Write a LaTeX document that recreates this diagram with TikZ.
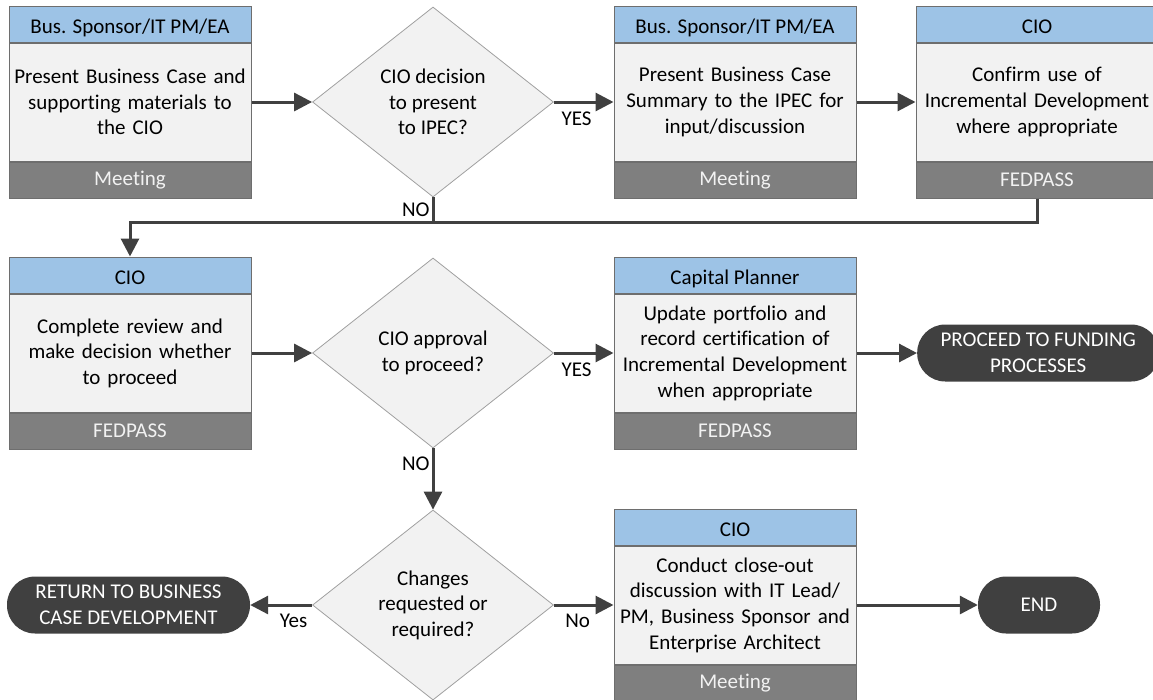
\documentclass[tikz,border=0pt]{standalone}
\usepackage{fontspec}
\setmainfont{Carlito}[Ligatures=NoCommon]
\usetikzlibrary{shapes.geometric,arrows.meta}
\definecolor{headc}{HTML}{9DC3E6}
\definecolor{bodyc}{HTML}{F2F2F2}
\definecolor{footc}{HTML}{7F7F7F}
\definecolor{edgec}{HTML}{6E6E6E}
\definecolor{darkc}{HTML}{404040}
\definecolor{diac}{HTML}{A0A0A0}
\begin{document}
\begin{tikzpicture}[x=1pt,y=-1pt,
  every node/.style={font=\fontsize{21}{25.6}\selectfont},
  body/.style={draw=edgec, line width=1pt, fill=bodyc, minimum width=242pt,
    minimum height=118pt, inner sep=0pt, align=center, text width=236pt},
  head/.style={draw=edgec, line width=1pt, fill=headc, minimum width=242pt,
    minimum height=36pt, inner sep=0pt, anchor=south, text depth=0pt, text height=18pt},
  foot/.style={draw=edgec, line width=1pt, fill=footc, text=bodyc,
    minimum width=242pt, minimum height=36pt, inner sep=0pt, anchor=north},
  decision/.style={diamond, draw=diac, line width=0.8pt, fill=bodyc,
    minimum width=241pt, minimum height=190pt, inner sep=0pt, align=center},
  terminal/.style={rectangle, rounded corners=28pt, fill=darkc, text=white,
    minimum height=57pt, inner sep=0pt, align=center},
  conn/.style={draw=darkc, line width=3pt},
  arr/.style={conn, -{Triangle[length=18pt,width=18pt]}},
  lab/.style={text=black, inner sep=2pt},
  labbelow/.style={lab, below, yshift=-6pt}]
\useasboundingbox (0,0) rectangle (1153,699);
\clip (0,0) rectangle (1153,699);

% ---- row 1 ----
\node[body] (b1) at (130,102) {Present Business Case and\\supporting materials to\\the CIO};
\node[head] (b1h) at (b1.north) {Bus. Sponsor/IT PM/EA};
\node[foot] (b1f) at (b1.south) {Meeting};

\node[decision] (d1) at (433,102) {CIO decision\\to present\\to IPEC?};

\node[body] (b2) at (735,102) {Present Business Case\\Summary to the IPEC for\\input/discussion};
\node[head] (b2h) at (b2.north) {Bus. Sponsor/IT PM/EA};
\node[foot] (b2f) at (b2.south) {Meeting};

\node[body] (b3) at (1037,102) {Confirm use of\\Incremental Development\\where appropriate};
\node[head] (b3h) at (b3.north) {CIO};
\node[foot] (b3f) at (b3.south) {FEDPASS};

% ---- row 2 ----
\node[body] (b4) at (130,353) {Complete review and\\make decision whether\\to proceed};
\node[head] (b4h) at (b4.north) {CIO};
\node[foot] (b4f) at (b4.south) {FEDPASS};

\node[decision] (d2) at (433,353) {CIO approval\\to proceed?};

\node[body] (b5) at (735,353) {Update portfolio and\\record certification of\\Incremental Development\\when appropriate};
\node[head] (b5h) at (b5.north) {Capital Planner};
\node[foot] (b5f) at (b5.south) {FEDPASS};

\node[terminal, minimum width=242pt, anchor=west] (t1) at (917,353) {PROCEED TO FUNDING\\PROCESSES};

% ---- row 3 ----
\node[decision] (d3) at (433,605) {Changes\\requested or\\required?};

\node[body] (b6) at (735,605) {Conduct close-out\\discussion with IT Lead/\\PM, Business Sponsor and\\Enterprise Architect};
\node[head] (b6h) at (b6.north) {CIO};
\node[foot] (b6f) at (b6.south) {Meeting};

\node[terminal, minimum width=243pt] (t2) at (128.5,605) {RETURN TO BUSINESS\\CASE DEVELOPMENT};
\node[terminal, minimum width=122pt] (t3) at (1039,605) {END};

% ---- connectors ----
\coordinate (j1) at (433,222);
\draw[arr] (b1.east) -- (d1.west);
\draw[arr] (d1.east) -- node[labbelow, pos=0.38] {YES} (b2.west);
\draw[arr] (b2.east) -- (b3.west);
\draw[arr] (b3f.south) -- (b3f.south |- j1) -| (b4h.north);
\draw[conn] (d1.south) -- node[lab, left] {NO} (j1);

\draw[arr] (b4.east) -- (d2.west);
\draw[arr] (d2.east) -- node[labbelow, pos=0.38] {YES} (b5.west);
\draw[arr] (b5.east) -- (t1.west);
\draw[arr] (d2.south) -- node[lab, left, pos=0.25] {NO} (d3.north);

\draw[arr] (d3.west) -- node[labbelow, pos=0.3] {Yes} (t2.east);
\draw[arr] (d3.east) -- node[labbelow, pos=0.4] {No} (b6.west);
\draw[arr] (b6.east) -- (t3.west);
\end{tikzpicture}
\end{document}
